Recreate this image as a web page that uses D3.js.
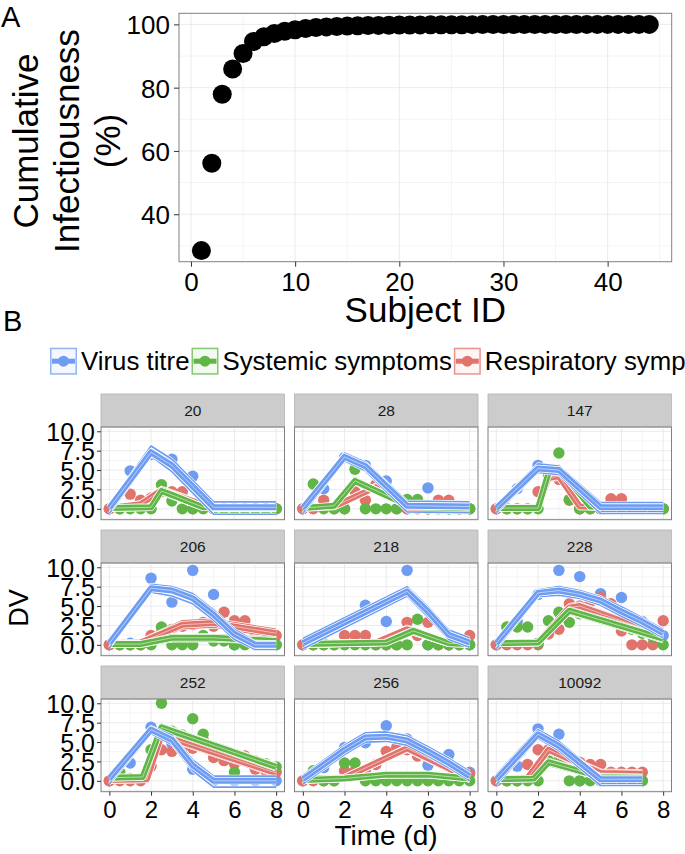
<!DOCTYPE html>
<html><head><meta charset="utf-8">
<script src="https://cdn.jsdelivr.net/npm/d3@7"></script>
<style>body{margin:0;background:#fff}svg{display:block;font-family:"Liberation Sans",Arial,Helvetica,sans-serif}</style>
</head><body><svg id="c" width="685" height="854"></svg>
<script>
// ---------- Panel A data ----------
const subjectIds = d3.range(1, 45);
const cumInfectiousness = [28.5,56.1,77.9,85.9,90.8,94.6,96.1,97.1,97.8,98.3,98.7,99.0,99.2,99.35,99.45,99.55,99.62,99.68,99.73,99.78,
  99.81,99.84,99.86,99.88,99.9,99.91,99.92,99.93,99.94,99.95,99.96,99.96,99.97,99.97,99.98,99.98,99.98,99.99,99.99,99.99,99.99,100,100,100];
const axisAxTicks = [0,10,20,30,40];
const axisAyTicks = [40,60,80,100];

// ---------- Panel B data ----------
const facetIds = ["20","28","147","206","218","228","252","256","10092"];
const seriesNames = ["Virus titre","Systemic symptoms","Respiratory symptoms"];
const seriesColors = ["#6d9cf2","#5fb545","#e0736b"];
const virusTimes = [0,1,2,3,4,5,6,7,8];
const symptomTimes = [0,0.5,1,1.5,2,2.5,3,3.5,4,4.5,5,5.5,6,6.5,7,7.5,8];
const timeTicks = [0,2,4,6,8];
const dvTicks = [0,2.5,5,7.5,10];

// observed values (one array per facet, in facetIds order)
const virusObs = [
  [0,4.9,7.0,6.4,4.2,0,0,0,0],
  [0,2.6,6.6,5.6,3.6,0,2.7,0,0],
  [0,2.6,5.6,4.6,0,0,0,0,0],
  [0,0.2,8.6,5.5,9.6,6.5,0,0.3,0],
  [0,0.2,2.9,5.1,3.0,9.6,0,0,0],
  [0,3.0,6.5,9.6,8.8,6.6,6.1,3.0,1.2],
  [0,2.3,6.9,4.8,1.5,0,0,0,0],
  [0,1.7,4.3,4.9,7.1,5.4,2.0,3.4,1.1],
  [0,1.9,6.7,6.0,0,0,0,0,null]
];
const systemicObs = [
  [null,0,0,0,0,3.1,1.0,0,0,0,0,0,0,0,0,0,0],
  [null,3.2,0,0,0,5.1,0,0,0,0,1.2,1.2,0,0,0,0,0],
  [null,0,0,0,0,5.0,7.2,1.2,0,0,0,0,0,0,0,0,0],
  [null,0,0,0,0,2.3,0,0,0,1.2,0.5,0.5,0,0,0,0,0],
  [null,0,0,0,0,0,0,0,0,0,0,3.3,0,0,0,0,0],
  [null,2.3,2.3,2.3,0.2,3.1,4.2,2.9,4.0,4.0,3.5,3.0,2.5,2.0,1.5,1.0,0],
  [null,1.1,0.3,0.3,4.0,10.0,6.4,5.9,8.0,6.0,4.4,3.9,1.1,3.0,2.6,2.2,1.8],
  [null,1.3,0,0,2.3,2.3,0,0,0,0,0,0,0,0,0,0,0],
  [null,0,0,0,0,2.6,2.6,0,0,0,0,0,0,0,0,null,null]
];
const respiratoryObs = [
  [0,0,1.9,1.1,1.4,2.2,2.2,2.2,0,0.9,0,0,0,0,0,0,0],
  [0,0,1.1,0,0,2.2,1.1,3.1,2.6,0,0,0,0,1.1,1.1,0,0],
  [0,0,0,0,2.2,4.3,3.8,1.1,0,0,0,1.3,1.3,0,0,0,0],
  [0,0,0,0,1.2,1.6,2.0,2.4,2.6,2.9,2.4,4.2,3.1,3.1,1.0,0.5,1.2],
  [0,0,0,0,1.2,1.2,1.2,0,0,0,2.9,1.2,2.9,0,0,0,1.2],
  [0,0,0,0,0,1.4,2.0,5.3,5.0,5.5,6.1,5.3,1.8,0,0,0,3.1],
  [0,0,0,0,1.9,4.0,3.8,4.2,4.2,5.3,3.0,2.6,2.2,3.2,1.5,1.3,1.1],
  [0,0,0,0,1.3,1.3,1.3,2.1,3.8,4.3,4.0,3.2,3.0,2.6,2.2,1.3,0.9],
  [0,0,0,2.1,4.0,4.0,3.4,2.6,2.4,2.1,2.1,1.1,1.1,1.1,1.1,null,null]
];

// model fits: rows of [time, lower, central, upper] per facet
const virusFit = [
  [[0,-0.6,0.1,0.5],[2,6.8,7.3,8.1],[3,4.8,5.6,6.4],[5,-0.7,0.2,0.9],[8,-0.7,0.2,0.9]],
  [[0,-0.6,0.1,0.5],[2,6.2,6.7,7.2],[3,4.9,5.5,6.0],[5,-0.4,0.4,1.0],[8,-0.5,0.3,0.9]],
  [[0,-0.5,0.1,0.5],[2,4.7,5.2,5.8],[3,4.4,5.0,5.5],[5,-0.6,0.2,0.8],[8,-0.6,0.2,0.8]],
  [[0,-0.4,0.2,0.7],[2,6.8,7.3,7.8],[3,6.3,7.0,7.5],[4,5.3,6.0,6.6],[5,3.2,3.9,4.5],[6,0.7,1.4,2.0],[7,-0.6,0.0,0.4],[8,-0.6,0.0,0.4]],
  [[0,-0.5,0.2,0.8],[5,6.3,6.9,7.5],[6,3.6,4.3,4.9],[7,0.7,1.3,1.9],[8,-0.3,0.3,0.9]],
  [[0,-0.5,0.2,0.7],[2,6.2,6.7,7.1],[3,6.4,7.0,7.5],[4,6.0,6.5,7.0],[5,5.1,5.7,6.2],[6,3.7,4.3,4.9],[7,2.4,3.0,3.5],[8,0.9,1.5,2.0]],
  [[0,-0.4,0.3,0.8],[2,6.1,6.6,7.0],[3,4.7,5.3,5.9],[4,1.3,2.0,2.7],[5,-0.8,0.0,0.6],[8,-0.8,0.0,0.6]],
  [[0,-0.4,0.2,0.7],[2,3.4,4.0,4.6],[3,5.0,5.6,6.2],[4,5.1,5.7,6.3],[5,4.6,5.2,5.8],[6,3.2,3.8,4.4],[7,1.7,2.3,2.9],[8,0.0,0.6,1.2]],
  [[0,-0.5,0.2,0.8],[2,5.5,6.0,6.6],[3,3.9,4.5,5.1],[5,-0.6,0.2,0.6],[7,-0.6,0.2,0.6]]
];
const systemicFit = [
  [[0,-0.2,0.1,0.4],[2,-0.1,0.2,0.5],[2.5,1.9,2.3,2.7],[3,1.4,1.8,2.2],[4.5,-0.1,0.2,0.5],[8,-0.2,0.1,0.4]],
  [[0,-0.1,0.1,0.3],[1.5,0.2,0.4,0.7],[2.5,3.2,3.6,4.0],[5,0.2,0.5,0.8],[8,0.0,0.3,0.6]],
  [[0,-0.1,0.1,0.3],[2,-0.1,0.1,0.3],[2.5,4.2,4.6,5.0],[3,4.8,5.2,5.6],[4.5,0.0,0.3,0.6],[8,-0.1,0.2,0.5]],
  [[0,-0.2,0.1,0.4],[1.5,-0.2,0.1,0.4],[3,0.5,0.9,1.3],[5,0.5,0.9,1.3],[8,0.2,0.5,0.9]],
  [[0,-0.2,0.1,0.4],[4,0.0,0.3,0.6],[5.3,1.4,1.8,2.2],[7,-0.1,0.2,0.5],[8,-0.2,0.1,0.4]],
  [[0,-0.1,0.2,0.5],[2,0.0,0.3,0.6],[3.5,4.0,4.4,4.8],[8,0.4,0.8,1.2]],
  [[0,0.1,0.4,0.7],[1.6,0.2,0.5,0.8],[2.5,6.5,6.9,7.3],[8,1.4,1.8,2.2]],
  [[0,-0.2,0.1,0.4],[2,0.0,0.3,0.6],[4,0.5,0.8,1.1],[6,0.5,0.8,1.1],[8,0.0,0.3,0.6]],
  [[0,-0.1,0.2,0.5],[1.8,0.0,0.3,0.6],[2.5,2.0,2.4,2.8],[5,0.2,0.5,0.8],[7,0.1,0.4,0.7]]
];
const respiratoryFit = [
  [[0,-0.2,0.1,0.4],[1.5,0.3,0.6,0.9],[2.5,2.0,2.4,2.8],[5,-0.2,0.1,0.4],[8,-0.2,0.1,0.4]],
  [[0,-0.1,0.1,0.3],[1.5,0.1,0.3,0.5],[3.5,2.4,2.8,3.2],[5,0.0,0.3,0.6],[8,0.0,0.3,0.6]],
  [[0,-0.1,0.1,0.3],[2,0.0,0.2,0.4],[2.5,3.6,4.0,4.4],[3,3.8,4.2,4.6],[4,0.0,0.3,0.6],[8,0.0,0.2,0.4]],
  [[0,-0.1,0.2,0.5],[1.5,0.0,0.3,0.6],[3.5,2.1,2.6,3.1],[5,2.3,2.8,3.3],[8,1.0,1.5,2.0]],
  [[0,-0.2,0.1,0.4],[3.5,0.0,0.3,0.6],[5,1.6,2.0,2.4],[7,-0.1,0.2,0.5],[8,-0.1,0.2,0.5]],
  [[0,-0.1,0.2,0.5],[2,0.0,0.3,0.6],[3.5,4.4,4.8,5.2],[4,4.6,5.0,5.4],[8,0.8,1.2,1.6]],
  [[0,-0.2,0.1,0.4],[1.8,-0.1,0.2,0.5],[2.5,5.5,5.9,6.3],[8,0.6,1.0,1.4]],
  [[0,0.0,0.3,0.6],[2,0.1,0.4,0.7],[5,3.8,4.2,4.6],[8,-0.1,0.3,0.7]],
  [[0,-0.1,0.2,0.5],[1.5,0.1,0.4,0.7],[2.5,3.6,4.0,4.4],[5,0.6,1.0,1.4],[7,0.5,0.9,1.3]]
];

// ---------- drawing ----------
const svg = d3.select("#c");
const grid = {major:"#e6e6e6", minor:"#f4f4f4", border:"#808080"};

// ===== Panel A =====
const A = {l:179, r:671.7, t:13.3, b:261.7};
const xA = d3.scaleLinear().domain([-1.15, 46.15]).range([A.l, A.r]);
const yA = d3.scaleLinear().domain([25.0, 103.5]).range([A.b, A.t]);
const gA = svg.append("g");
const minorXA = [5,15,25,35,45], minorYA = [30,50,70,90];
gA.selectAll(".mnx").data(minorXA).join("line").attr("x1",xA).attr("x2",xA).attr("y1",A.t).attr("y2",A.b).attr("stroke",grid.minor).attr("stroke-width",1);
gA.selectAll(".mny").data(minorYA).join("line").attr("y1",yA).attr("y2",yA).attr("x1",A.l).attr("x2",A.r).attr("stroke",grid.minor).attr("stroke-width",1);
gA.selectAll(".mjx").data(axisAxTicks).join("line").attr("x1",xA).attr("x2",xA).attr("y1",A.t).attr("y2",A.b).attr("stroke",grid.major).attr("stroke-width",0.8);
gA.selectAll(".mjy").data(axisAyTicks).join("line").attr("y1",yA).attr("y2",yA).attr("x1",A.l).attr("x2",A.r).attr("stroke",grid.major).attr("stroke-width",0.8);
gA.selectAll("circle").data(subjectIds).join("circle")
  .attr("cx", d => xA(d)).attr("cy", (d,i) => yA(cumInfectiousness[i])).attr("r", 9.5).attr("fill", "#000");
gA.append("rect").attr("x",A.l).attr("y",A.t).attr("width",A.r-A.l).attr("height",A.b-A.t).attr("fill","none").attr("stroke",grid.border).attr("stroke-width",1);

const axAx = svg.append("g").attr("transform",`translate(0,${A.b})`)
  .call(d3.axisBottom(xA).tickValues(axisAxTicks).tickSize(5).tickPadding(6).tickFormat(d3.format("d")));
const axAy = svg.append("g").attr("transform",`translate(${A.l},0)`)
  .call(d3.axisLeft(yA).tickValues(axisAyTicks).tickSize(5).tickPadding(4).tickFormat(d3.format("d")));
[axAx, axAy].forEach(g => {
  g.select(".domain").remove();
  g.selectAll(".tick line").attr("stroke","#333");
  g.selectAll("text").attr("font-size",26).attr("fill","#000").attr("font-family","Liberation Sans, Arial, sans-serif");
});
axAy.selectAll("text").attr("dy","0.36em");

svg.append("text").attr("x",(A.l+A.r)/2).attr("y",322).attr("text-anchor","middle").attr("font-size",35).text("Subject ID");
const ytA = svg.append("text").attr("transform","translate(0,141) rotate(-90)").attr("text-anchor","middle").attr("font-size",35);
["Cumulative","Infectiousness","(%)"].forEach((s,i) => ytA.append("tspan").attr("x",0).attr("y",38 + i*41).text(s));
svg.append("text").attr("x",1).attr("y",27).attr("font-size",29).text("A");
svg.append("text").attr("x",3).attr("y",331).attr("font-size",29).text("B");

// ===== Legend =====
const leg = svg.append("g");
let lx = 50; const ly = 347.7, ks = 27;
seriesNames.forEach((name, i) => {
  const c = seriesColors[i];
  leg.append("rect").attr("x",lx+0.75).attr("y",ly+0.75).attr("width",ks-1.5).attr("height",ks-1.5)
    .attr("fill",c).attr("fill-opacity",0.08).attr("stroke",c).attr("stroke-opacity",0.75).attr("stroke-width",1.5);
  leg.append("line").attr("x1",lx+2).attr("x2",lx+ks-2).attr("y1",ly+ks/2).attr("y2",ly+ks/2).attr("stroke",c).attr("stroke-width",5);
  leg.append("circle").attr("cx",lx+ks/2).attr("cy",ly+ks/2).attr("r",5.5).attr("fill",c);
  const t = leg.append("text").attr("x",lx+ks+4).attr("y",ly+ks/2+9.2).attr("font-size",25.8).text(name);
  lx = lx + ks + 4 + t.node().getComputedTextLength() + 2;
});

// ===== Facets =====
const colLeft = [101, 294.5, 488], panelW = 183.5;
const stripTop = [394, 530, 666], stripH = 33, panelH = 92.7;
const minorT = [1,3,5,7], minorDV = [-1.25,1.25,3.75,6.25,8.75];

facetIds.forEach((id, fi) => {
  const col = fi % 3, row = Math.floor(fi / 3);
  const x0 = colLeft[col], sy = stripTop[row], py = sy + stripH;
  const xs = d3.scaleLinear().domain([-0.4, 8.4]).range([x0, x0 + panelW]);
  const ys = d3.scaleLinear().domain([-1.4, 10.55]).range([py + panelH, py]);
  const g = svg.append("g");
  const clipId = "clip" + fi;
  g.append("clipPath").attr("id", clipId).append("rect").attr("x",x0).attr("y",py).attr("width",panelW).attr("height",panelH);

  // strip
  g.append("rect").attr("x",x0).attr("y",sy).attr("width",panelW).attr("height",stripH).attr("fill","#cccccc").attr("stroke","#b3b3b3").attr("stroke-width",0.8);
  g.append("text").attr("x",x0+panelW/2).attr("y",sy+stripH/2+5.5).attr("text-anchor","middle").attr("font-size",15.5).attr("fill","#1a1a1a").text(id);

  // grid
  g.selectAll(".mnx").data(minorT).join("line").attr("x1",xs).attr("x2",xs).attr("y1",py).attr("y2",py+panelH).attr("stroke",grid.minor).attr("stroke-width",1);
  g.selectAll(".mny").data(minorDV).join("line").attr("y1",ys).attr("y2",ys).attr("x1",x0).attr("x2",x0+panelW).attr("stroke",grid.minor).attr("stroke-width",1);
  g.selectAll(".mjx").data(timeTicks).join("line").attr("x1",xs).attr("x2",xs).attr("y1",py).attr("y2",py+panelH).attr("stroke",grid.major).attr("stroke-width",0.8);
  g.selectAll(".mjy").data(dvTicks).join("line").attr("y1",ys).attr("y2",ys).attr("x1",x0).attr("x2",x0+panelW).attr("stroke",grid.major).attr("stroke-width",0.8);

  const inner = g.append("g").attr("clip-path", `url(#${clipId})`);
  // points: virus, respiratory, systemic
  const ptLayers = [
    {times: virusTimes, vals: virusObs[fi], c: seriesColors[0]},
    {times: symptomTimes, vals: respiratoryObs[fi], c: seriesColors[2]},
    {times: symptomTimes, vals: systemicObs[fi], c: seriesColors[1]}
  ];
  ptLayers.forEach(L => {
    const pts = L.times.map((t,i) => [t, L.vals[i]]).filter(d => d[1] !== null);
    inner.append("g").selectAll("circle").data(pts).join("circle")
      .attr("cx", d => xs(d[0])).attr("cy", d => ys(d[1])).attr("r", 5.7).attr("fill", L.c);
  });
  // fit lines: respiratory, systemic, virus on top
  const fitLayers = [
    {rows: respiratoryFit[fi], c: seriesColors[2]},
    {rows: systemicFit[fi], c: seriesColors[1]},
    {rows: virusFit[fi], c: seriesColors[0]}
  ];
  fitLayers.forEach(L => {
    [1, 3].forEach(k => {
      const ln = d3.line().x(d => xs(d[0])).y(d => ys(d[k]));
      inner.append("path").attr("d", ln(L.rows)).attr("fill","none").attr("stroke","#fff").attr("stroke-width",3.0).attr("stroke-linejoin","round");
      inner.append("path").attr("d", ln(L.rows)).attr("fill","none").attr("stroke",L.c).attr("stroke-width",1.7).attr("stroke-linejoin","round");
    });
    const lm = d3.line().x(d => xs(d[0])).y(d => ys(d[2]));
    inner.append("path").attr("d", lm(L.rows)).attr("fill","none").attr("stroke","#fff").attr("stroke-width",7.5).attr("stroke-linejoin","round");
    inner.append("path").attr("d", lm(L.rows)).attr("fill","none").attr("stroke",L.c).attr("stroke-width",6).attr("stroke-linejoin","round");
    inner.append("path").attr("d", lm(L.rows)).attr("fill","none").attr("stroke","#fff").attr("stroke-opacity",0.75).attr("stroke-width",0.7).attr("stroke-linejoin","round");
  });

  g.append("rect").attr("x",x0).attr("y",py).attr("width",panelW).attr("height",panelH).attr("fill","none").attr("stroke",grid.border).attr("stroke-width",1);

  if (col === 0) {
    const ay = svg.append("g").attr("transform",`translate(${x0},0)`)
      .call(d3.axisLeft(ys).tickValues(dvTicks).tickSize(4).tickPadding(2).tickFormat(d3.format(".1f")));
    ay.select(".domain").remove();
    ay.selectAll(".tick line").attr("stroke","#333");
    ay.selectAll("text").attr("font-size",25).attr("fill","#000").attr("dy","0.36em").attr("font-family","Liberation Sans, Arial, sans-serif");
  }
  if (row === 2) {
    const ax = svg.append("g").attr("transform",`translate(0,${py+panelH})`)
      .call(d3.axisBottom(xs).tickValues(timeTicks).tickSize(4).tickPadding(5).tickFormat(d3.format("d")));
    ax.select(".domain").remove();
    ax.selectAll(".tick line").attr("stroke","#333");
    ax.selectAll("text").attr("font-size",24).attr("fill","#000").attr("font-family","Liberation Sans, Arial, sans-serif");
  }
});

svg.append("text").attr("transform","translate(28,608) rotate(-90)").attr("text-anchor","middle").attr("font-size",27).text("DV");
svg.append("text").attr("x",386).attr("y",845).attr("text-anchor","middle").attr("font-size",28).text("Time (d)");
</script></body></html>
